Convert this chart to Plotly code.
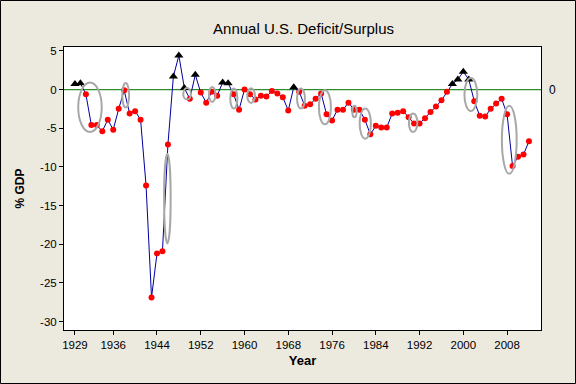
import plotly.graph_objects as go

# ---- data ----
years = list(range(1929, 2013))
deficit_pct_gdp = [
    0.7, 0.8, -0.6, -4.6, -4.6, -5.4, -3.9, -5.2, -2.5, -0.1,
    -3.1, -2.8, -3.9, -12.4, -26.9, -21.2, -20.9, -7.1, 1.7, 4.4,
    0.2, -1.2, 1.9, -0.4, -1.7, -0.3, -0.8, 0.9, 0.8, -0.6,
    -2.6, 0.0, -0.6, -1.3, -0.8, -0.9, -0.2, -0.5, -1.0, -2.7,
    0.3, -0.3, -2.1, -1.9, -1.2, -0.5, -3.2, -4.0, -2.6, -2.6,
    -1.7, -2.6, -2.6, -3.9, -5.8, -4.7, -4.9, -4.9, -3.1, -3.0,
    -2.8, -3.6, -4.4, -4.4, -3.7, -2.9, -2.2, -1.4, -0.3, 0.7,
    1.3, 2.3, 1.3, -1.5, -3.4, -3.5, -2.5, -1.8, -1.2, -3.2,
    -9.9, -8.7, -8.4, -6.7,
]
x_tick_years = [1929, 1936, 1944, 1952, 1960, 1968, 1976, 1984, 1992, 2000, 2008]
y_tick_vals = [5, 0, -5, -10, -15, -20, -25, -30]
y_tick_text = ["5", "0", "-5", "-10", "-15", "-20", "-25", "-30"]

# highlighted (circled) periods: year span and value span
circle_year_start = [1929.6, 1937.65, 1945.3, 1948.8, 1953.5, 1957.4, 1960.5, 1969.6, 1973.6, 1979.7, 1981.05, 1990.05, 2000.2, 2007.05]
circle_year_end   = [1933.9, 1938.9, 1946.5, 1950.2, 1954.7, 1958.7, 1961.9, 1971.05, 1975.8, 1980.5, 1983.1, 1991.6, 2002.55, 2009.75]
circle_val_top    = [0.9, 0.85, -8.3, 0.2, 0.34, 0.13, 0.17, 0.13, -0.1, -2.1, -2.46, -3.1, 1.5, -2.1]
circle_val_bottom = [-5.5, -2.33, -19.9, -1.3, -1.6, -2.46, -1.73, -2.46, -4.5, -3.6, -6.35, -5.5, -2.77, -10.9]

surplus_years = [y for y, v in zip(years, deficit_pct_gdp) if v > 0]
surplus_vals = [v for v in deficit_pct_gdp if v > 0]
deficit_years = [y for y, v in zip(years, deficit_pct_gdp) if v <= 0]
deficit_vals = [v for v in deficit_pct_gdp if v <= 0]

FONT = "Liberation Sans"

fig = go.Figure()
fig.add_trace(go.Scatter(x=years, y=deficit_pct_gdp, mode="lines",
                         line=dict(color="#0000A0", width=1), hoverinfo="skip"))
fig.add_trace(go.Scatter(x=deficit_years, y=deficit_vals, mode="markers",
                         marker=dict(symbol="circle", size=6, color="#FF0000",
                                     line=dict(width=0))))
fig.add_trace(go.Scatter(x=surplus_years, y=surplus_vals, mode="markers",
                         marker=dict(symbol="triangle-up", size=8, color="#000000",
                                     line=dict(width=0))))

shapes = [
    dict(type="line", xref="paper", yref="y", x0=0, x1=1, y0=0, y1=0,
         line=dict(color="#2E8B2E", width=1.2), layer="below"),
]
for xs, xe, yt, yb in zip(circle_year_start, circle_year_end, circle_val_top, circle_val_bottom):
    shapes.append(dict(type="circle", xref="x", yref="y", x0=xs, x1=xe, y0=yb, y1=yt,
                       line=dict(color="#A8A8A8", width=2), layer="above"))
# outer frame of the picture
shapes.append(dict(type="rect", xref="paper", yref="paper",
                   x0=-63.5 / 477, x1=1 + 34.5 / 477, y0=-53.5 / 283, y1=1 + 46.5 / 283,
                   line=dict(color="#000000", width=1), layer="below"))

fig.update_layout(
    width=576, height=384,
    margin=dict(l=64, r=35, t=47, b=54),
    paper_bgcolor="#ECE9DF",
    plot_bgcolor="#FFFFFF",
    showlegend=False,
    font=dict(family=FONT, size=11, color="#000000"),
    title=dict(text="Annual U.S. Deficit/Surplus", x=0.527, xanchor="center",
               y=1 - 29 / 384, yanchor="middle",
               font=dict(family=FONT, size=15, color="#000000")),
    shapes=shapes,
    annotations=[
        dict(text="0", xref="paper", yref="y", x=1, y=0, xanchor="left", yanchor="middle",
             xshift=6, showarrow=False, font=dict(family=FONT, size=12, color="#000000")),
    ],
)
fig.update_xaxes(
    range=[1927.0, 2014.2], tickmode="array", tickvals=x_tick_years,
    ticks="outside", ticklen=4, tickcolor="#000000", showgrid=False, zeroline=False,
    showline=True, linecolor="#000000", linewidth=1, mirror=True,
    tickfont=dict(family=FONT, size=11.5),
    title=dict(text="<b>Year</b>", font=dict(family=FONT, size=13), standoff=6),
)
fig.update_yaxes(
    range=[-31.1, 5.5], tickmode="array", tickvals=y_tick_vals, ticktext=y_tick_text,
    ticks="outside", ticklen=4, tickcolor="#000000", showgrid=False, zeroline=False,
    showline=True, linecolor="#000000", linewidth=1, mirror=True,
    tickfont=dict(family=FONT, size=11.5),
    title=dict(text="<b>% GDP</b>", font=dict(family=FONT, size=12), standoff=12),
)

fig.write_html(
    "out.html",
    config={"displayModeBar": False},
    post_script="document.body.style.margin='0';document.body.style.overflow='hidden';",
)
